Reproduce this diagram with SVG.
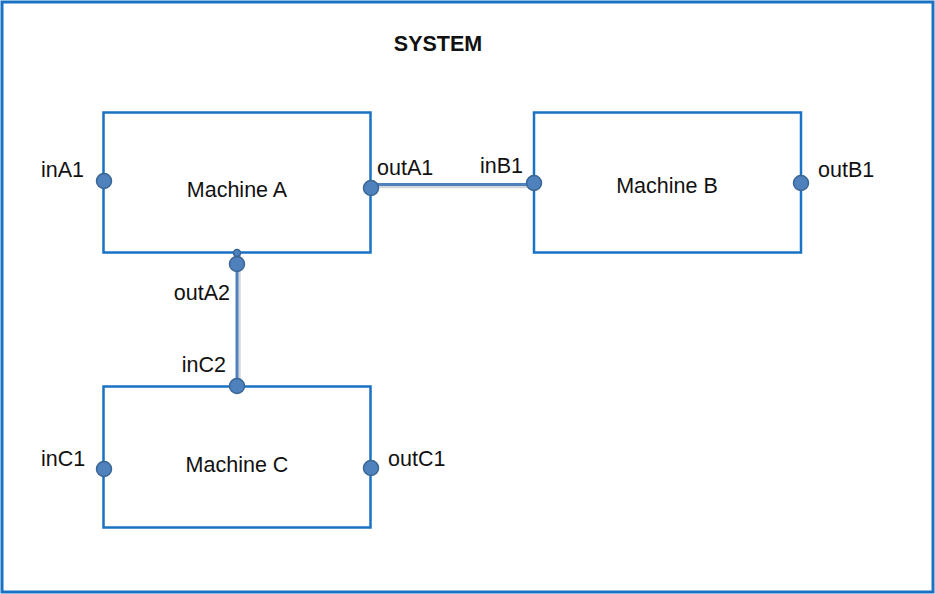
<svg xmlns="http://www.w3.org/2000/svg" width="935" height="594" viewBox="0 0 935 594">
<style>
.box{fill:#fff;stroke:#1a72c4;stroke-width:2.5}
.port{fill:#4f81bd;stroke:#3a6596;stroke-width:1.5}
.lbl{font-family:"Liberation Sans",Arial,sans-serif;font-size:21.5px;fill:#111}
.wire{stroke:#4f81bd;stroke-width:3;fill:none}
.shadow{stroke:#d3d7dc;stroke-width:2.5;fill:none}
</style>
<rect x="0" y="0" width="935" height="594" fill="#fff"/>
<rect x="2" y="2" width="931" height="590" fill="none" stroke="#1a72c4" stroke-width="3"/>
<text x="438" y="51" text-anchor="middle" class="lbl" style="font-weight:bold">SYSTEM</text>
<g id="machineA">
<rect class="box" x="103.5" y="112.5" width="267" height="140"/>
<text class="lbl" x="237" y="197" text-anchor="middle">Machine A</text>
</g>
<g id="machineB">
<rect class="box" x="534" y="112.5" width="267" height="140"/>
<text class="lbl" x="667" y="193" text-anchor="middle">Machine B</text>
</g>
<g id="machineC">
<rect class="box" x="103.5" y="386.5" width="267" height="141"/>
<text class="lbl" x="237" y="472" text-anchor="middle">Machine C</text>
</g>
<g id="connectors">
<line class="shadow" x1="372" y1="187" x2="533" y2="187"/>
<line class="wire" x1="371" y1="184.5" x2="533" y2="184.5"/>
<line class="shadow" x1="239.5" y1="254" x2="239.5" y2="386"/>
<line class="wire" x1="237" y1="252" x2="237" y2="386"/>
<circle class="port" cx="237" cy="253" r="3.5"/>
</g>
<g id="ports">
<g id="inA1"><circle class="port" cx="104" cy="181" r="7.5"/><text class="lbl" x="41" y="177">inA1</text></g>
<g id="outA1"><circle class="port" cx="371" cy="188" r="7.5"/><text class="lbl" x="377" y="175">outA1</text></g>
<g id="outA2"><circle class="port" cx="237" cy="264" r="7.5"/><text class="lbl" x="230" y="300" text-anchor="end">outA2</text></g>
<g id="inB1"><circle class="port" cx="534" cy="183" r="7.5"/><text class="lbl" x="523" y="173" text-anchor="end">inB1</text></g>
<g id="outB1"><circle class="port" cx="801" cy="183" r="7.5"/><text class="lbl" x="818" y="177">outB1</text></g>
<g id="inC1"><circle class="port" cx="104" cy="469" r="7.5"/><text class="lbl" x="41" y="466">inC1</text></g>
<g id="inC2"><circle class="port" cx="237" cy="386" r="7.5"/><text class="lbl" x="226" y="372" text-anchor="end">inC2</text></g>
<g id="outC1"><circle class="port" cx="371" cy="468" r="7.5"/><text class="lbl" x="388" y="466">outC1</text></g>
</g>
</svg>
